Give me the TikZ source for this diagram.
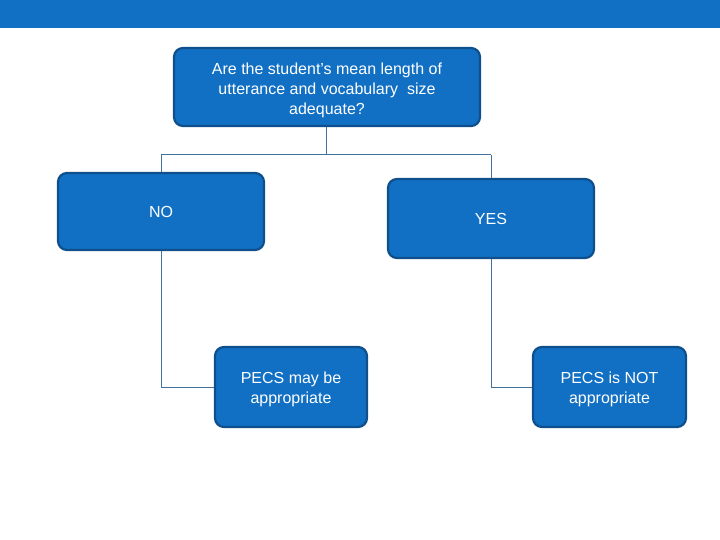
\documentclass[tikz,border=0pt]{standalone}
\usepackage{fontspec}
\setmainfont{Liberation Sans}
\definecolor{boxfill}{HTML}{1170C4}
\definecolor{boxedge}{HTML}{0E4F8C}
\definecolor{linkc}{HTML}{41719C}
\begin{document}
\begin{tikzpicture}[x=1pt,y=-1pt,
  decision/.style={draw=boxedge, line width=2.2pt, fill=boxfill, rounded corners=9pt,
    text=white, font=\fontsize{16}{20}\selectfont, align=center, inner sep=0pt},
  boxtext/.style={text=white, font=\fontsize{16}{20}\selectfont, align=center, inner sep=0pt},
  link/.style={draw=linkc, line width=1pt}]
\useasboundingbox (0,0) rectangle (720,540);
\fill[boxfill] (0,0) rectangle (720,28);
\node[decision, minimum width=306pt, minimum height=78pt] (q) at (327,87) {};
\node[boxtext] (qt) at ([yshift=-3.5pt]q.center) {Are the student's mean length of\\utterance and vocabulary\ \ size\\adequate?};
\node[decision, minimum width=206pt, minimum height=77pt] (no) at (161,211.5) {NO};
\node[decision, minimum width=206pt, minimum height=79pt] (yes) at (491,218.5) {YES};
\node[decision, minimum width=152pt, minimum height=80pt] (pa) at (291,387) {};
\node[boxtext] (pat) at ([yshift=-2pt]pa.center) {PECS may be\\appropriate};
\node[decision, minimum width=153pt, minimum height=80pt] (pn) at (609.5,387) {};
\node[boxtext] (pnt) at ([yshift=-2pt]pn.center) {PECS is NOT\\appropriate};
\coordinate (jn) at (161,155);
\coordinate (jy) at (491,155);
\coordinate (jq) at (326,155);
\draw[link] (q.south -| jq) -- (jq);
\draw[link] (jn) -- (jy);
\draw[link] (jn) -- (no.north);
\draw[link] (jy) -- (yes.north);
\draw[link] (no.south) |- (pa.west);
\draw[link] (yes.south) |- (pn.west);
\end{tikzpicture}
\end{document}
